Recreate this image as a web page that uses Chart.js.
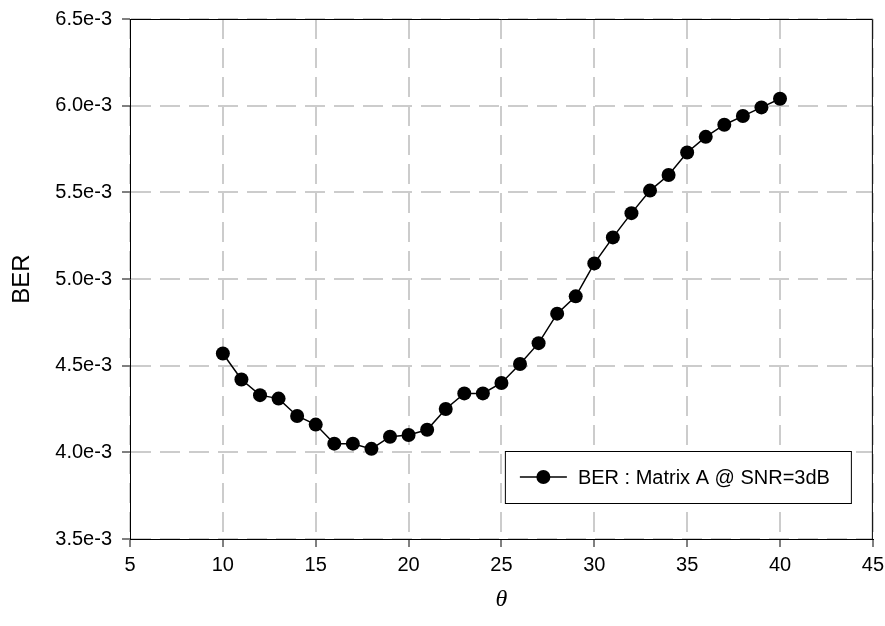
<!DOCTYPE html>
<html>
<head>
<meta charset="utf-8">
<script src="https://cdn.jsdelivr.net/npm/chart.js@4/dist/chart.umd.min.js"></script>
<style>
  html, body { margin: 0; padding: 0; background: #fff; overflow: hidden; }
  #frame { width: 885px; height: 626px; position: relative; overflow: hidden; }
  #wrap { width: 890px; height: 629px; position: absolute; left: 0; top: -3px; }
</style>
</head>
<body>
<div id="frame"><div id="wrap"><canvas id="ber-chart"></canvas></div></div>
<script>
// theta values (x) and measured BER (y)
const theta = [10, 11, 12, 13, 14, 15, 16, 17, 18, 19, 20, 21, 22, 23, 24, 25,
  26, 27, 28, 29, 30, 31, 32, 33, 34, 35, 36, 37, 38, 39, 40];
const ber = [4.57, 4.42, 4.33, 4.31, 4.21, 4.16, 4.05, 4.05, 4.02, 4.09, 4.10, 4.13,
  4.25, 4.34, 4.34, 4.40, 4.51, 4.63, 4.80, 4.90, 5.09, 5.24, 5.38, 5.51, 5.60,
  5.73, 5.82, 5.89, 5.94, 5.99, 6.04].map(v => v * 1e-3);
const seriesLabel = 'BER : Matrix A @ SNR=3dB';
const xTicks = [5, 10, 15, 20, 25, 30, 35, 40, 45];
const yTicks = [3.5e-3, 4.0e-3, 4.5e-3, 5.0e-3, 5.5e-3, 6.0e-3, 6.5e-3];

const FONT = '"Liberation Sans", Arial, sans-serif';

// frame round the plot + legend box in lower right
const boxPlugin = {
  id: 'boxAndLegend',
  afterDraw(chart) {
    const ctx = chart.ctx;
    const a = chart.chartArea;
    ctx.save();
    ctx.strokeStyle = '#000';
    ctx.lineWidth = 1;
    ctx.setLineDash([]);
    ctx.beginPath();
    ctx.moveTo(a.left, a.top + 0.5);
    ctx.lineTo(a.right - 0.5, a.top + 0.5);
    ctx.lineTo(a.right - 0.5, a.bottom);
    ctx.stroke();

    // legend
    const bx = a.right - 368, by = a.bottom - 88, bw = 346, bh = 52;
    ctx.fillStyle = '#fff';
    ctx.fillRect(bx, by, bw, bh);
    ctx.strokeRect(bx + 0.5, by + 0.5, bw, bh);
    const cy = by + bh / 2;
    ctx.lineWidth = 1.5;
    ctx.beginPath();
    ctx.moveTo(bx + 15, cy);
    ctx.lineTo(bx + 62, cy);
    ctx.stroke();
    ctx.fillStyle = '#000';
    ctx.beginPath();
    ctx.arc(bx + 38.5, cy, 7, 0, Math.PI * 2);
    ctx.fill();
    ctx.font = '20px ' + FONT;
    ctx.textBaseline = 'middle';
    ctx.fillText(seriesLabel, bx + 73, cy + 1);
    ctx.restore();
  }
};

const gridOpts = {
  color: '#cccccc',
  lineWidth: 2,
  tickColor: '#000',
  tickWidth: 1,
  tickBorderDash: [],
  tickLength: 8
};

const config = {
  type: 'line',
  data: {
    datasets: [{
      label: seriesLabel,
      data: theta.map((t, i) => ({ x: t, y: ber[i] })),
      borderColor: '#000',
      borderWidth: 1.5,
      backgroundColor: '#000',
      pointRadius: 7,
      pointBackgroundColor: '#000',
      pointBorderWidth: 0,
      tension: 0
    }]
  },
  options: {
    responsive: true,
    maintainAspectRatio: false,
    animation: false,
    layout: { padding: { top: 16, right: 8, bottom: 0, left: 0 } },
    plugins: {
      legend: { display: false },
      tooltip: { enabled: false }
    },
    scales: {
      x: {
        type: 'linear',
        min: 5,
        max: 45,
        afterBuildTicks: s => { s.ticks = xTicks.map(v => ({ value: v })); },
        afterFit: s => { s.height = 87; },
        ticks: {
          color: '#000',
          font: { family: FONT, size: 20 },
          padding: 6,
          maxRotation: 0
        },
        grid: gridOpts,
        border: { color: '#000', width: 1, dash: [20, 9] },
        title: {
          display: true,
          text: 'θ',
          color: '#000',
          font: { family: '"Liberation Serif", "Times New Roman", serif', size: 24, style: 'italic' },
          padding: { top: 0, bottom: 12 }
        }
      },
      y: {
        type: 'linear',
        min: 3.5e-3,
        max: 6.5e-3,
        afterBuildTicks: s => { s.ticks = yTicks.map(v => ({ value: v })); },
        afterFit: s => { s.width = 130; },
        ticks: {
          color: '#000',
          font: { family: FONT, size: 20 },
          padding: 10,
          callback: v => v.toExponential(1)
        },
        grid: gridOpts,
        border: { color: '#000', width: 1, dash: [20, 9] },
        title: {
          display: true,
          text: 'BER',
          color: '#000',
          font: { family: FONT, size: 24 },
          padding: { top: 8, bottom: 0 }
        }
      }
    }
  },
  plugins: [boxPlugin]
};

const berChart = new Chart(document.getElementById('ber-chart'), config);
</script>
</body>
</html>
